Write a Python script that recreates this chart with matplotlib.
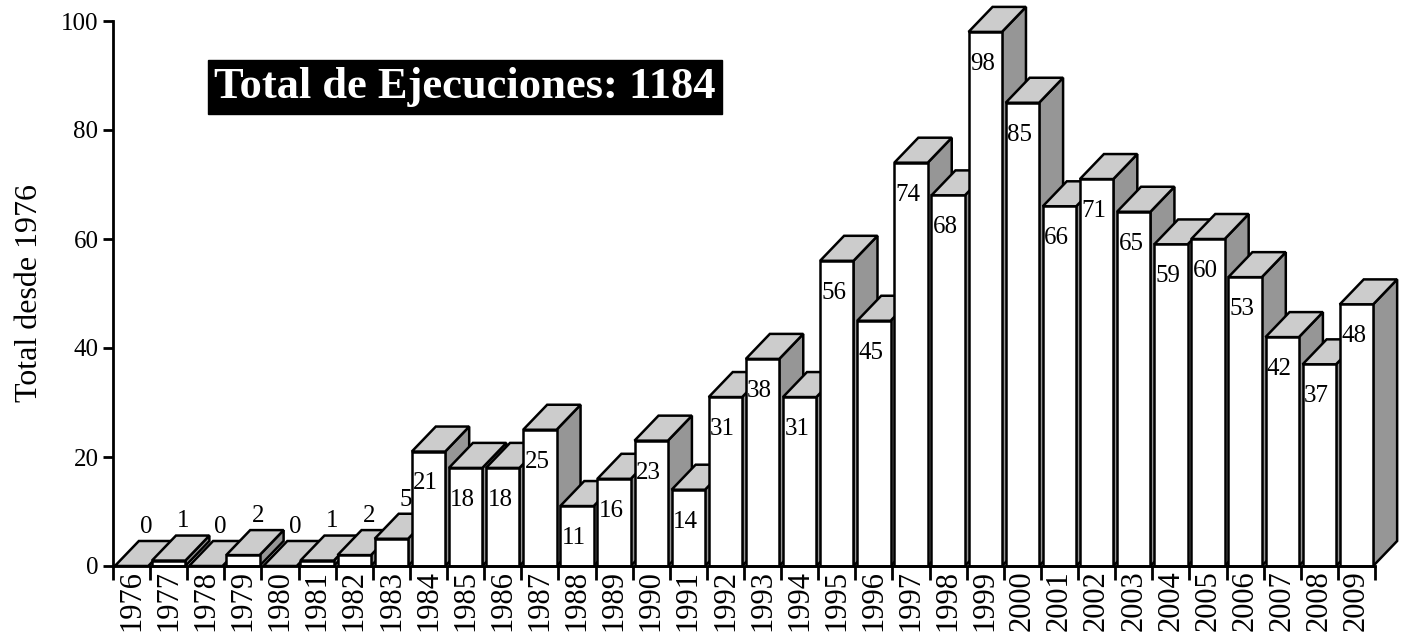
import matplotlib.pyplot as plt
from matplotlib.patches import Polygon

years = [str(y) for y in range(1976, 2010)]
executions = [0, 1, 0, 2, 0, 1, 2, 5, 21, 18, 18, 25, 11, 16, 23, 14, 31, 38, 31,
              56, 45, 74, 68, 98, 85, 66, 71, 65, 59, 60, 53, 42, 37, 48]
title_text = "Total de Ejecuciones: 1184"

plt.rcParams['font.family'] = ['Liberation Serif', 'DejaVu Serif']

fig = plt.figure(figsize=(14.03, 6.42), dpi=100)
ax = fig.add_axes([113 / 1403, 76 / 642, 1262 / 1403, 545 / 642])

n = len(years)
ax.set_xlim(0, n)
ax.set_ylim(0, 100)

# 3d extrusion in data units (about 24 px right, 25 px up)
dx = 24 / (1262 / n)
dy = 25 / 5.45
w = 0.9
front_c = 'white'
top_c = '#cccccc'
side_c = '#969696'
lw = 1.8

for i, v in enumerate(executions):
    x0 = i + (1 - w) / 2
    x1 = x0 + w
    side = [(x1, 0), (x1 + dx, dy), (x1 + dx, v + dy), (x1, v)]
    top = [(x0, v), (x1, v), (x1 + dx, v + dy), (x0 + dx, v + dy)]
    front = [(x0, 0), (x1, 0), (x1, v), (x0, v)]
    z = 2 + i * 0.01
    ax.add_patch(Polygon(side, closed=True, fc=side_c, ec='black', lw=lw,
                         joinstyle='miter', clip_on=False, zorder=z))
    ax.add_patch(Polygon(top, closed=True, fc=top_c, ec='black', lw=lw,
                         joinstyle='miter', clip_on=False, zorder=z))
    if v > 0:
        ax.add_patch(Polygon(front, closed=True, fc=front_c, ec='black', lw=lw,
                             joinstyle='miter', clip_on=False, zorder=z))

    if v < 10:
        ax.text(i + 0.5 + 0.4, v + dy + 2.6, str(v), ha='center', va='center',
                fontsize=18, zorder=5)
    else:
        ax.annotate(str(v), (x0, v), xytext=(1, -23), textcoords='offset points',
                    ha='left', va='center', fontsize=18, zorder=5)

ax.spines['top'].set_visible(False)
ax.spines['right'].set_visible(False)
ax.spines['left'].set_linewidth(2)
ax.spines['bottom'].set_linewidth(2)
ax.spines['bottom'].set_zorder(6)

ax.set_yticks(range(0, 101, 20))
ax.tick_params(axis='y', labelsize=18, width=2, length=7, direction='out')
ax.set_xticks(range(0, n + 1))
ax.set_xticklabels([])
ax.set_xticks([i + 0.5 for i in range(n)], minor=True)
ax.set_xticklabels(years, minor=True, rotation=90, fontsize=22)
ax.tick_params(axis='x', which='major', width=2, length=10, direction='out')
ax.tick_params(axis='x', which='minor', length=0, pad=3)

ax.set_ylabel("Total desde 1976", fontsize=23, labelpad=12)

fig.text(465 / 1403, 1 - 87 / 642, title_text, color='white', fontsize=32,
         fontweight='bold', ha='center', va='center',
         bbox=dict(facecolor='black', edgecolor='black', boxstyle='square,pad=0.15'))

fig.savefig("out.png", dpi=100)
